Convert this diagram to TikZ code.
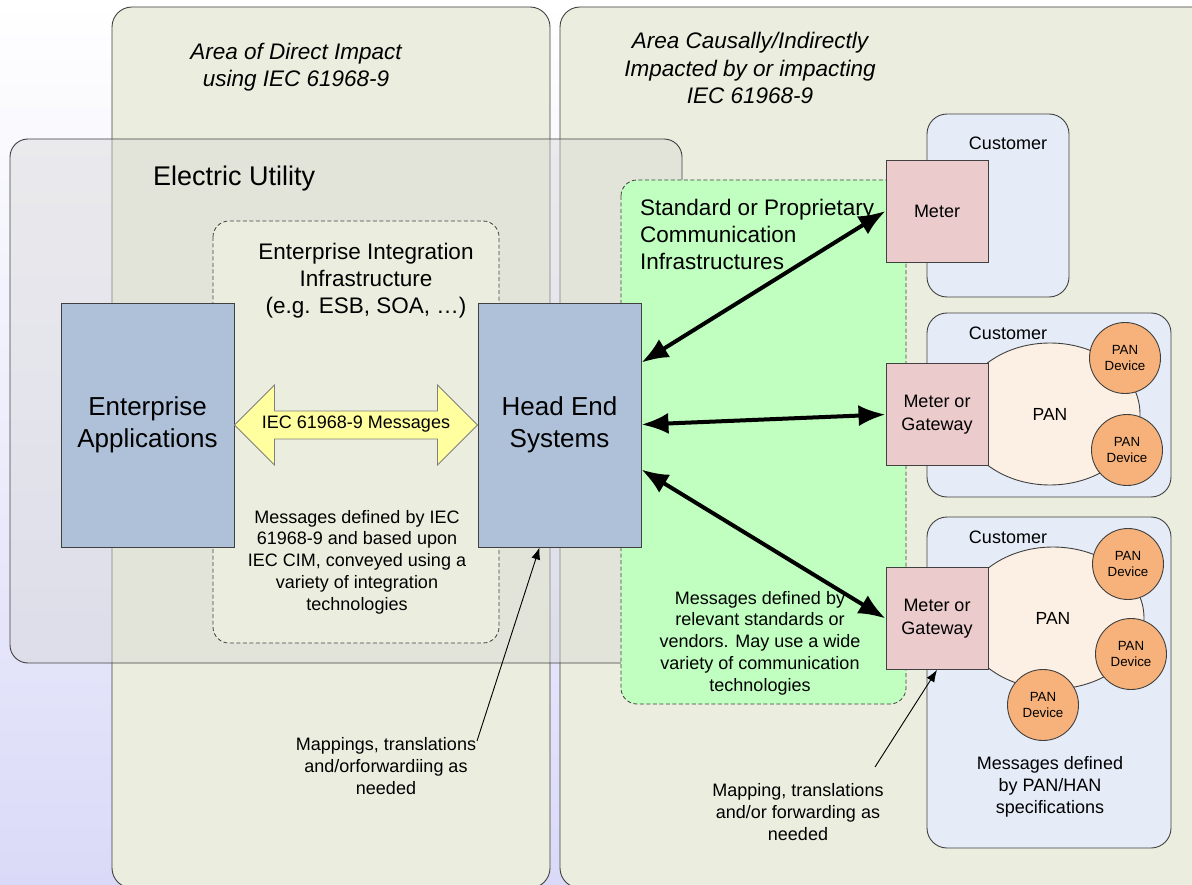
\documentclass[tikz,border=0pt]{standalone}
\usepackage{fontspec}
\setmainfont{Liberation Sans}
\usetikzlibrary{arrows.meta,shapes.geometric,calc}
\definecolor{bgbot}{RGB}{218,218,248}
\definecolor{colArea}{RGB}{235,238,222}
\definecolor{colUtil}{RGB}{215,215,215}
\definecolor{colSys}{RGB}{175,193,217}
\definecolor{colMsg}{RGB}{255,255,160}
\definecolor{colComm}{RGB}{192,255,192}
\definecolor{colCust}{RGB}{229,236,247}
\definecolor{colMeter}{RGB}{235,203,203}
\definecolor{colPan}{RGB}{252,239,227}
\definecolor{colDev}{RGB}{246,178,122}
\definecolor{edge}{RGB}{64,64,64}

\begin{document}
\begin{tikzpicture}[x=1pt,y=-1pt]
\tikzset{areabox/.style={draw=edge, line width=0.9pt, fill=colArea, rounded corners=20pt},
  utilbox/.style={draw=edge, line width=0.9pt, fill=colUtil, fill opacity=0.43, rounded corners=18pt},
  dashbox/.style={draw=edge, line width=0.8pt, dash pattern=on 4pt off 2.5pt, rounded corners=16pt},
  custbox/.style={draw=edge, line width=0.9pt, fill=colCust, rounded corners=20pt},
  sysbox/.style={draw=edge, line width=0.9pt, fill=colSys, inner sep=0pt, align=center, minimum height=244pt, font=\fontsize{26}{32}\selectfont},
  meterbox/.style={draw=edge, line width=0.9pt, fill=colMeter, inner sep=0pt, align=center, minimum width=102pt, minimum height=102pt, font=\fontsize{18}{23}\selectfont},
  pancloud/.style={ellipse, draw=edge, line width=0.9pt, fill=colPan, inner sep=0pt, font=\fontsize{17.5}{21}\selectfont},
  pandev/.style={circle, draw=edge, line width=0.9pt, fill=colDev, minimum size=71pt, inner sep=0pt, align=center, font=\fontsize{13.3}{16}\selectfont},
  note/.style={inner sep=0pt, align=center, font=\fontsize{18}{21.7}\selectfont},
  head/.style={inner sep=0pt, align=center, font=\fontsize{22.5}{27}\selectfont},
  areatitle/.style={inner sep=0pt, align=center, font=\fontsize{22.5}{27.5}\selectfont\itshape},
  bigarrow/.style={line width=4pt, {Latex[length=27pt,width=21pt]}-{Latex[length=27pt,width=21pt]}},
  thinarrow/.style={line width=0.9pt, -{Latex[length=12pt,width=9pt]}},
  msgarrow/.style={draw=gray, line width=0.8pt, fill=colMsg}}
\useasboundingbox (0,0) rectangle (1192,885);
\shade[top color=white, bottom color=bgbot] (0,0) rectangle (1192,885);

\draw[areabox] (112,7) rectangle (550,888); \draw[areabox] (560,7) rectangle (1215,888);
\draw[utilbox] (10,139) rectangle (682,663);
\draw[dashbox, fill=colArea] (213,221) rectangle (499,643);
\draw[dashbox, fill=colComm] (621,180) rectangle (906,704);
\draw[custbox] (927,114) rectangle (1069,297); \draw[custbox] (927,313) rectangle (1171,497); \draw[custbox] (927,517) rectangle (1171,848);

\node[areatitle] (direct) at (296,67) {Area of Direct Impact\\using IEC 61968-9};
\node[areatitle] (indirect) at (750,68) {Area Causally/Indirectly\\Impacted by or impacting\\IEC 61968-9};
\node[inner sep=0pt, anchor=west, font=\fontsize{27}{32}\selectfont] (util) at (153,179) {Electric Utility};
\node[head] (eii) at (366,281) {Enterprise Integration\\Infrastructure\\(e.g. ESB, SOA, …)};
\node[head, align=left, anchor=west] (comm) at (640,234) {Standard or Proprietary\\Communication\\Infrastructures};

\node[note] (cust1) at (1008,143) {Customer}; \node[note] (cust2) at (1008,333) {Customer}; \node[note] (cust3) at (1008,537) {Customer};
\node[pancloud, minimum width=180pt, minimum height=142pt] (pan2) at (1050,414) {PAN};
\node[pancloud, minimum width=182pt, minimum height=142pt] (pan3) at (1053,618) {PAN};
\node[pandev] (dev21) at (1125,358) {PAN\\Device}; \node[pandev] (dev22) at (1127,450) {PAN\\Device};
\node[pandev] (dev31) at (1128,564) {PAN\\Device}; \node[pandev] (dev32) at (1131,654) {PAN\\Device}; \node[pandev] (dev33) at (1043,705) {PAN\\Device};
\node[meterbox] (m1) at (937,211) {Meter};
\node[meterbox] (m2) at (937,414.5) {Meter or\\Gateway};
\node[meterbox] (m3) at (937,618.5) {Meter or\\Gateway};

\node[sysbox, minimum width=173pt] (ea) at (147.5,425) {Enterprise\\Applications};
\node[sysbox, minimum width=163pt] (hes) at (559.5,425) {Head End\\Systems};
\draw[msgarrow] (ea.east) -- ++(40,-40) -- ++(0,26) -- ++(163,0) -- ++(0,-26) -- (hes.west) -- ++(-40,40) -- ++(0,-26) -- ++(-163,0) -- ++(0,26) -- cycle;
\node[note] (msg) at (356,424) {IEC 61968-9 Messages};

\node[note] (cimnote) at (357,562) {Messages defined by IEC\\61968-9 and based upon\\IEC CIM, conveyed using a\\variety of integration\\technologies};
\node[note] (commnote) at (760,643) {Messages defined by\\relevant standards or\\vendors. May use a wide\\variety of communication\\technologies};
\node[note] (map1) at (386,766) {Mappings, translations\\and/orforwardiing as\\needed};
\node[note] (map2) at (798,812) {Mapping, translations\\and/or forwarding as\\needed};
\node[note] (pannote) at (1050,787) {Messages defined\\by PAN/HAN\\specifications};

\coordinate (h1) at ($(hes.north east)+(0,60)$); \coordinate (h2) at ($(hes.north east)+(0,122)$); \coordinate (h3) at ($(hes.north east)+(0,167)$);
\draw[bigarrow] (h1) -- (m1.west); \draw[bigarrow] (h2) -- (m2.west); \draw[bigarrow] (h3) -- (m3.west);
\coordinate (s1) at (477,741); \coordinate (s2) at (875,767);
\draw[thinarrow] (s1) -- ($(hes.south)+(-20,0)$); \draw[thinarrow] (s2) -- (m3.south);
\end{tikzpicture}
\end{document}
